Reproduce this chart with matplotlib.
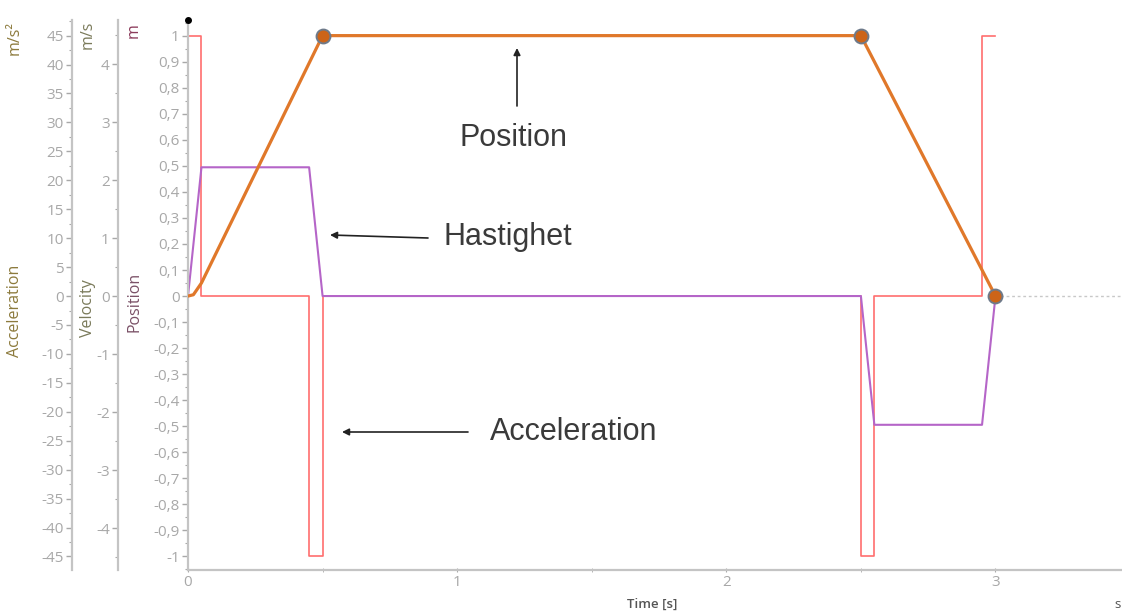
import matplotlib
matplotlib.use("Agg")
import matplotlib.pyplot as plt
from matplotlib.ticker import MultipleLocator, FuncFormatter

# ---------------- data ----------------
pos_t = [0.0, 0.02, 0.05, 0.5, 2.5, 3.0]
pos_m = [0.0, 0.005, 0.05, 1.0, 1.0, 0.0]
marker_t = [0.5, 2.5, 3.0]
marker_m = [1.0, 1.0, 0.0]

vel_t = [0.0, 0.05, 0.45, 0.5, 2.5, 2.55, 2.95, 3.0]
vel_ms = [0.0, 2.22, 2.22, 0.0, 0.0, -2.22, -2.22, 0.0]

acc_t = [0.0, 0.0, 0.05, 0.45, 0.5, 2.5, 2.55, 2.95, 3.0]
acc_ms2 = [0.0, 45.0, 0.0, -45.0, 0.0, -45.0, 0.0, 45.0, 45.0]

x_ticks = [0, 1, 2, 3]
x_max = 3.47

pos_lim = (-1.052, 1.06)
vel_per_pos = 4.49
acc_per_pos = 45.0

W, H = 1122, 613
fig = plt.figure(figsize=(W / 100, H / 100), dpi=100)
fig.patch.set_facecolor("white")

left_px, right_px, bottom_px, top_px = 188, 1122, 570, 20
rect = [left_px / W, 1 - bottom_px / H, (right_px - left_px) / W, (bottom_px - top_px) / H]

spine_col = "#c4c4c4"
tick_col = "#a8a8a8"
FONT = ["Open Sans", "DejaVu Sans"]


def comma_fmt(v, _):
    if abs(v) < 1e-9:
        return "0"
    s = ("%.1f" % v).rstrip("0").rstrip(".")
    return s.replace(".", ",")


def int_fmt(v, _):
    if abs(v) < 1e-9:
        return "0"
    return "%d" % round(v)


def style_left(ax, offset_px):
    for k in ["top", "right", "bottom"]:
        ax.spines[k].set_visible(False)
    ax.spines["left"].set_color(spine_col)
    ax.spines["left"].set_linewidth(1.6)
    if offset_px:
        ax.spines["left"].set_position(("outward", offset_px * 0.72))
    ax.tick_params(axis="y", which="both", direction="out", color=tick_col,
                   labelcolor=tick_col, labelsize=11, pad=2)
    ax.tick_params(axis="y", which="major", length=4, width=1)
    ax.tick_params(axis="y", which="minor", length=2.5, width=0.8)
    for lab in ax.get_yticklabels():
        lab.set_family(FONT)


# acceleration axis (outermost)
ax_a = fig.add_axes(rect)
ax_a.patch.set_visible(False)
ax_a.set_xlim(0, x_max)
ax_a.set_ylim(pos_lim[0] * acc_per_pos, pos_lim[1] * acc_per_pos)
ax_a.set_yticks([v for v in range(-45, 50, 5)])
ax_a.yaxis.set_minor_locator(MultipleLocator(2.5))
ax_a.yaxis.set_major_formatter(FuncFormatter(int_fmt))
ax_a.set_xticks([])
style_left(ax_a, left_px - 72)

# velocity axis
ax_v = fig.add_axes(rect)
ax_v.patch.set_visible(False)
ax_v.set_xlim(0, x_max)
ax_v.set_ylim(pos_lim[0] * vel_per_pos, pos_lim[1] * vel_per_pos)
ax_v.set_yticks([-4, -3, -2, -1, 0, 1, 2, 3, 4])
ax_v.yaxis.set_minor_locator(MultipleLocator(0.5))
ax_v.yaxis.set_major_formatter(FuncFormatter(int_fmt))
ax_v.set_xticks([])
style_left(ax_v, left_px - 118)

# position axis (main)
ax = fig.add_axes(rect)
ax.patch.set_visible(False)
ax.set_xlim(0, x_max)
ax.set_ylim(*pos_lim)
ax.set_yticks([round(-1 + 0.1 * i, 1) for i in range(21)])
ax.yaxis.set_minor_locator(MultipleLocator(0.05))
ax.yaxis.set_major_formatter(FuncFormatter(comma_fmt))
style_left(ax, 0)
ax.spines["bottom"].set_visible(True)
ax.spines["bottom"].set_color(spine_col)
ax.spines["bottom"].set_linewidth(1.6)
ax.set_xticks(x_ticks)
ax.xaxis.set_minor_locator(MultipleLocator(0.5))
ax.tick_params(axis="x", which="both", direction="inout", color=tick_col,
               labelcolor=tick_col, labelsize=11, length=3, pad=2)
for lab in ax.get_xticklabels():
    lab.set_family(FONT)

# curves
ax_a.plot(acc_t, acc_ms2, drawstyle="steps-post", color="#ff5555", lw=1.2,
          alpha=0.85, zorder=2)
ax_v.plot(vel_t, vel_ms, color="#b565c8", lw=1.5, zorder=3)
ax.hlines(0, pos_t[-1], x_max, colors="#c8c8c8", linestyles=(0, (2, 2)), lw=1, zorder=1)
ax.plot(pos_t, pos_m, color="#e0782a", lw=2.3, zorder=4, solid_capstyle="round")
ax.plot(marker_t, marker_m, "o", ms=10, mfc="#cc6419", mec="#6e7a8a", mew=1.4,
        zorder=5, clip_on=False)
ax.plot([0], [1], transform=ax.transAxes, marker="o", ms=4, color="black",
        clip_on=False, zorder=6)

# axis titles and units
def ftext(x, y, s, color, size=11.5, rot=90, **kw):
    fig.text(x / W, 1 - y / H, s, rotation=rot, color=color, fontsize=size,
             ha="center", va="center", family=FONT, **kw)

ftext(15, 38, "m/s²", "#8c7a3c")
ftext(15, 311, "Acceleration", "#8c7a3c")
ftext(88, 35, "m/s", "#7a7a5a")
ftext(88, 308, "Velocity", "#7a7a5a")
ftext(134, 31, "m", "#8b3a5a")
ftext(134, 302, "Position", "#7a5066")
ftext(652, 604, "Time [s]", "#555555", size=9.5, rot=0, fontweight="semibold")
ftext(1118, 604, "s", "#555555", size=9.5, rot=0)

# annotations
ANN = ["Liberation Sans", "DejaVu Sans"]
def ann(text, xy_px, xytext_px, ha, text_xy_px):
    fig.text(text_xy_px[0] / W, 1 - text_xy_px[1] / H, text, fontsize=22,
             color="#3a3a3a", ha=ha, va="center", family=ANN)
    ax.annotate("", xy=(xy_px[0] / W, 1 - xy_px[1] / H), xycoords="figure fraction",
                xytext=(xytext_px[0] / W, 1 - xytext_px[1] / H), textcoords="figure fraction",
                arrowprops=dict(arrowstyle="-|>", color="#222222", lw=1.2,
                                mutation_scale=10, shrinkA=0, shrinkB=0))

ann("Position", (517, 48), (517, 106), "center", (513, 138))
ann("Hastighet", (330, 235), (428, 238), "left", (443, 237))
ann("Acceleration", (342, 432), (468, 432), "left", (490, 432))

fig.savefig("out.png", dpi=100)
